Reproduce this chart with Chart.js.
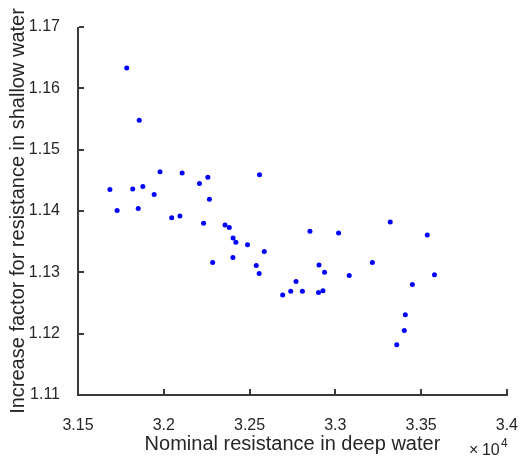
<!DOCTYPE html>
<html>
<head>
<meta charset="utf-8">
<script src="https://cdn.jsdelivr.net/npm/chart.js@4/dist/chart.umd.min.js"></script>
<style>
  body { margin: 0; background: #fff; }
</style>
</head>
<body>
<canvas id="chart" width="531" height="461"></canvas>
<script>
// nominal resistance in deep water (raw, axis shows it x10^4)
const nominalResistance = [
  31784, 31857, 31978, 32107, 32257, 32558, 31686, 31819, 31878, 31944,
  32208, 32266, 31728, 31851, 32046, 32094, 32232, 32357, 32382, 32404,
  32420, 32488, 32586, 32403, 32285, 32539, 32556, 32693, 32740, 32771,
  32808, 32852, 33019, 32905, 32937, 32902, 32928, 33081, 33216, 33320,
  33536, 33578, 33449, 33408, 33402, 33358
];
// increase factor for resistance in shallow water
const increaseFactor = [
  1.1633, 1.1548, 1.1464, 1.1462, 1.1455, 1.1459, 1.1435, 1.1436, 1.1440, 1.1427,
  1.1445, 1.1419, 1.1401, 1.1404, 1.1389, 1.1392, 1.1380, 1.1377, 1.1373, 1.1356,
  1.1349, 1.1345, 1.1334, 1.1324, 1.1316, 1.1311, 1.1298, 1.1263, 1.1269, 1.1285,
  1.1269, 1.1367, 1.1364, 1.1312, 1.1300, 1.1267, 1.1270, 1.1295, 1.1316, 1.1382,
  1.1361, 1.1296, 1.1280, 1.1231, 1.1205, 1.1182
];

const xTickValues = [31500, 32000, 32500, 33000, 33500, 34000];
const xTickLabels = ["3.15", "3.2", "3.25", "3.3", "3.35", "3.4"];
const yTickValues = [1.11, 1.12, 1.13, 1.14, 1.15, 1.16, 1.17];
const yTickLabels = ["1.11", "1.12", "1.13", "1.14", "1.15", "1.16", "1.17"];

const FONT = "'Liberation Sans', Arial, sans-serif";
const TEXT = "#262626";
const AXIS = "#3a3a3a";

// matlab style axes: left + bottom lines, ticks pointing inward
const matlabAxes = {
  id: "matlabAxes",
  afterDraw(chart) {
    const c = chart.ctx;
    const area = chart.chartArea;
    const left = Math.round(area.left);
    const right = Math.round(area.right);
    const top = Math.round(area.top);
    const bottom = Math.round(area.bottom);
    const tick = 5;
    c.save();
    c.fillStyle = AXIS;
    c.fillRect(left - 1, top, 2, bottom - top + 1);
    c.fillRect(left - 1, bottom - 1, right - left + 2, 2);
    xTickValues.forEach((v) => {
      const px = Math.round(chart.scales.x.getPixelForValue(v));
      c.fillRect(px - 1, bottom - 1 - tick, 2, tick);
    });
    yTickValues.forEach((v) => {
      const py = Math.round(chart.scales.y.getPixelForValue(v));
      c.fillRect(left + 1, py - 1, tick, 2);
    });
    c.restore();
  },
};

// the "x10^4" exponent label under the right end of the x axis
const exponentLabel = {
  id: "exponentLabel",
  afterDraw(chart) {
    const c = chart.ctx;
    const x = chart.scales.x.right - 38;
    const y = 455;
    c.save();
    c.fillStyle = TEXT;
    c.textBaseline = "alphabetic";
    c.textAlign = "left";
    c.font = "16px " + FONT;
    c.fillText("\u00d7", x, y);
    c.fillText("10", x + 13, y);
    c.font = "12px " + FONT;
    c.fillText("4", x + 32, y - 8);
    c.restore();
  },
};

const ctx = document.getElementById("chart").getContext("2d");

new Chart(ctx, {
  type: "scatter",
  data: {
    datasets: [
      {
        data: nominalResistance.map((x, i) => ({ x: x, y: increaseFactor[i] })),
        backgroundColor: "#0000ff",
        borderWidth: 0,
        pointRadius: 2.5,
        pointHoverRadius: 2.5,
      },
    ],
  },
  options: {
    responsive: false,
    animation: false,
    events: [],
    layout: { padding: { left: 0, top: 27, right: 13, bottom: 0 } },
    plugins: {
      legend: { display: false },
      tooltip: { enabled: false },
    },
    scales: {
      x: {
        type: "linear",
        min: 31500,
        max: 34000,
        afterBuildTicks: (s) => { s.ticks = xTickValues.map((v) => ({ value: v })); },
        afterFit: (s) => { s.height = 66; },
        ticks: {
          callback: (v, i) => xTickLabels[i],
          color: TEXT,
          font: { family: FONT, size: 16 },
          padding: 13,
          maxRotation: 0,
        },
        grid: { display: false },
        border: { display: false },
        title: {
          display: true,
          text: "Nominal resistance in deep water",
          color: TEXT,
          font: { family: FONT, size: 20 },
          padding: { top: 0, bottom: 5 },
        },
      },
      y: {
        type: "linear",
        min: 1.11,
        max: 1.17,
        afterBuildTicks: (s) => { s.ticks = yTickValues.map((v) => ({ value: v })); },
        afterFit: (s) => { s.width = 78; },
        ticks: {
          callback: (v, i) => yTickLabels[i],
          color: TEXT,
          font: { family: FONT, size: 16 },
          padding: 10,
        },
        grid: { display: false },
        border: { display: false },
        title: {
          display: true,
          text: "Increase factor for resistance in shallow water",
          color: TEXT,
          font: { family: FONT, size: 20 },
          padding: { top: 6, bottom: 0 },
        },
      },
    },
  },
  plugins: [matlabAxes, exponentLabel],
});
</script>
</body>
</html>
